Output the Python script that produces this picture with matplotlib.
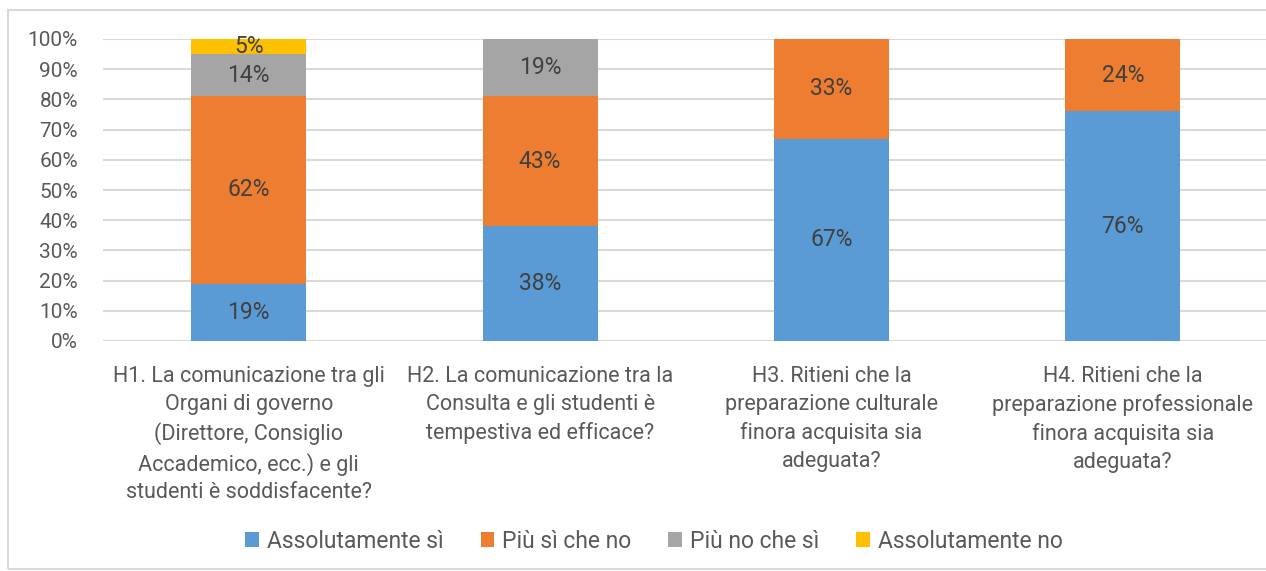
import numpy as np
import matplotlib
matplotlib.use("Agg")
import matplotlib.pyplot as plt
from matplotlib.patches import Rectangle

plt.rcParams['font.family'] = ['Roboto', 'DejaVu Sans']

# data
categories = [
    "H1. La comunicazione tra gli\nOrgani di governo\n(Direttore, Consiglio\nAccademico, ecc.) e gli\nstudenti è soddisfacente?",
    "H2. La comunicazione tra la\nConsulta e gli studenti è\ntempestiva ed efficace?",
    "H3. Ritieni che la\npreparazione culturale\nfinora acquisita sia\nadeguata?",
    "H4. Ritieni che la\npreparazione professionale\nfinora acquisita sia\nadeguata?",
]
series_names = ["Assolutamente sì", "Più sì che no", "Più no che sì", "Assolutamente no"]
assolutamente_si = [19, 38, 67, 76]
piu_si_che_no = [62, 43, 33, 24]
piu_no_che_si = [14, 19, 0, 0]
assolutamente_no = [5, 0, 0, 0]
colors = ["#5b9bd5", "#ed7d31", "#a5a5a5", "#ffc000"]

series = [assolutamente_si, piu_si_che_no, piu_no_che_si, assolutamente_no]

fig = plt.figure(figsize=(12.66, 5.71), dpi=100)
ax = fig.add_axes([103 / 1266, 230 / 571, 1 - 103 / 1266 + 0.002, 302 / 571])

# outer frame
fig.patches.append(Rectangle((8 / 1266, 2 / 571), 1.2, 559 / 571, transform=fig.transFigure,
                             fill=False, edgecolor="#d9d9d9", linewidth=1.5))

x = np.arange(len(categories))
bottom = np.zeros(len(categories))
for name, vals, c in zip(series_names, series, colors):
    vals = np.array(vals, dtype=float)
    ax.bar(x, vals, 0.395, bottom=bottom, color=c, label=name, zorder=2)
    for xi, v, b in zip(x, vals, bottom):
        if v > 0:
            ax.text(xi, b + v / 2, f"{int(v)}%", ha="center", va="center",
                    fontsize=16.5, color="#404040", zorder=3)
    bottom += vals

ax.set_xlim(-0.5, 3.5)
ax.set_ylim(0, 100)
ax.set_yticks(np.arange(0, 101, 10))
ax.set_yticklabels([f"{t}%" for t in range(0, 101, 10)], fontsize=15, color="#595959")
ax.set_xticks(x)
ax.set_xticklabels(categories, fontsize=15.5, color="#595959", linespacing=1.42, va="top")
ax.tick_params(axis="both", length=0)
ax.tick_params(axis="y", pad=18)
ax.tick_params(axis="x", pad=18)
ax.grid(axis="y", color="#d9d9d9", linewidth=1.5, zorder=0)
for s in ax.spines.values():
    s.set_visible(False)

leg = fig.legend(loc="center", bbox_to_anchor=(654 / 1266, 1 - 541 / 571), ncol=4,
                 frameon=False, fontsize=16.5, handlelength=0.6, handleheight=0.6,
                 handletextpad=0.35, columnspacing=1.6)
for t in leg.get_texts():
    t.set_color("#595959")

fig.savefig("out.png", dpi=100)
